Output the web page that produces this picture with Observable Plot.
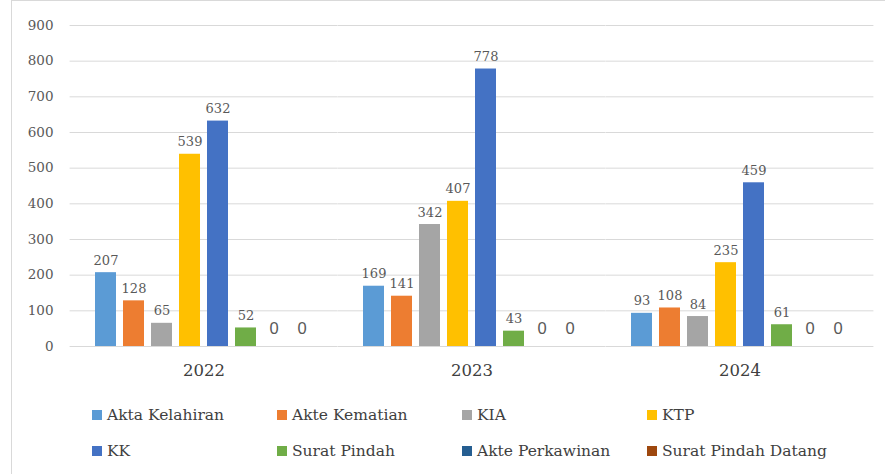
<!DOCTYPE html>
<html>
<head>
<meta charset="utf-8">
<script src="https://cdn.jsdelivr.net/npm/d3@7"></script>
<script src="https://cdn.jsdelivr.net/npm/@observablehq/plot@0.6"></script>
<style>
  html, body { margin: 0; padding: 0; background: #fff; }
  #wrap { position: relative; width: 885px; height: 474px; overflow: hidden; }
  #frame { position: absolute; left: 11px; top: 0; width: 880px; height: 474px;
           border-left: 1px solid #d9d9d9; border-top: 1px solid #d9d9d9; box-sizing: border-box; }
  #chart { position: absolute; left: 0; top: 0; }
  g[aria-label^="fx-axis"] { font-size: 16.5px; fill: #404040; }
  g[aria-label^="y-axis"] { font-size: 13.5px; }
  #legend { position: absolute; left: 0; top: 392px; width: 885px; height: 82px;
            font-family: "DejaVu Serif", serif; font-size: 15.5px; color: #404040; }
  .li { position: absolute; display: flex; align-items: center; white-space: nowrap; }
  .sw { width: 10px; height: 10px; margin-right: 5px; }
</style>
</head>
<body>
<div id="wrap">
  <div id="frame"></div>
  <div id="chart"></div>
  <div id="legend"></div>
</div>
<script>
const years = ["2022", "2023", "2024"];
const seriesNames = ["Akta Kelahiran", "Akte Kematian", "KIA", "KTP", "KK", "Surat Pindah", "Akte Perkawinan", "Surat Pindah Datang"];
const seriesColors = ["#5B9BD5", "#ED7D31", "#A5A5A5", "#FFC000", "#4472C4", "#70AD47", "#255E91", "#9E480E"];
const aktaKelahiran = [207, 169, 93];
const akteKematian = [128, 141, 108];
const kia = [65, 342, 84];
const ktp = [539, 407, 235];
const kk = [632, 778, 459];
const suratPindah = [52, 43, 61];
const aktePerkawinan = [0, 0, 0];
const suratPindahDatang = [0, 0, 0];
const yTicks = [0, 100, 200, 300, 400, 500, 600, 700, 800, 900];

const seriesValues = [aktaKelahiran, akteKematian, kia, ktp, kk, suratPindah, aktePerkawinan, suratPindahDatang];
const table = [];
years.forEach((yr, j) => {
  seriesNames.forEach((s, i) => {
    table.push({year: yr, series: s, value: seriesValues[i][j]});
  });
});

const chart = Plot.plot({
  width: 885,
  height: 392,
  marginLeft: 69,
  marginRight: 11,
  marginTop: 25,
  marginBottom: 46,
  style: {fontFamily: "DejaVu Serif", fontSize: "13px", color: "#595959", background: "transparent"},
  fx: {domain: years, paddingInner: 0.181, paddingOuter: 0.0907, axis: "bottom", tickSize: 0, tickPadding: 18, label: null},
  x: {domain: seriesNames, paddingInner: 0.234, paddingOuter: 0, axis: null},
  y: {domain: [0, 900], ticks: yTicks, tickSize: 0, tickPadding: 41, label: null},
  color: {domain: seriesNames, range: seriesColors},
  marks: [
    Plot.ruleY(yTicks, {stroke: "#d9d9d9", strokeWidth: 1, insetLeft: -24.4, insetRight: -24.4}),
    Plot.barY(table, {fx: "year", x: "series", y: "value", fill: "series"}),
    Plot.text(table.filter(d => d.value !== 0), {fx: "year", x: "series", y: "value", text: d => String(d.value),
      dy: -8, lineAnchor: "bottom", fill: "#595959", fontFamily: "DejaVu Serif", fontSize: 13}),
    Plot.text(table.filter(d => d.value === 0), {fx: "year", x: "series", y: "value", text: d => String(d.value),
      dy: -13, lineAnchor: "bottom", fill: "#595959", fontFamily: "Liberation Sans", fontSize: 16.5})
  ]
});
document.getElementById("chart").appendChild(chart);

const legend = document.getElementById("legend");
const colX = [92, 277, 462, 647];
const rowY = [23, 59];
seriesNames.forEach((s, i) => {
  const item = document.createElement("div");
  item.className = "li";
  item.style.left = colX[i % 4] + "px";
  item.style.top = (rowY[Math.floor(i / 4)] - 10) + "px";
  item.style.height = "20px";
  const sw = document.createElement("div");
  sw.className = "sw";
  sw.style.background = chart.scale("color").apply(s);
  const tx = document.createElement("span");
  tx.textContent = s;
  item.appendChild(sw);
  item.appendChild(tx);
  legend.appendChild(item);
});
</script>
</body>
</html>
